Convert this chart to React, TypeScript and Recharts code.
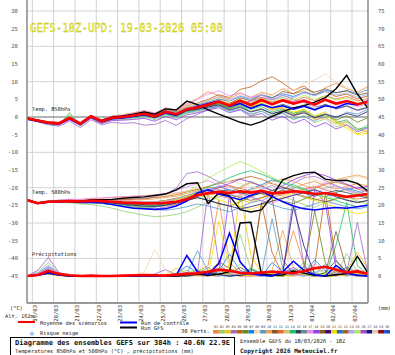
import React from 'react';
import { LineChart, Line, XAxis, YAxis, ReferenceLine } from 'recharts';

const MONO = '"DejaVu Sans Mono", "Liberation Mono", monospace';

const HOURS = [0, 12, 24, 36, 48, 60, 72, 84, 96, 108, 120, 132, 144, 156, 168, 180, 192, 204, 216, 228, 240, 252, 264, 276, 288, 300, 312, 324, 336, 348, 360, 372, 384];
const DAY_TICKS = [6, 30, 54, 78, 102, 126, 150, 174, 198, 222, 246, 270, 294, 318, 342, 366];
const DAY_LABELS = ['19/03', '20/03', '21/03', '22/03', '23/03', '24/03', '25/03', '26/03', '27/03', '28/03', '29/03', '30/03', '31/03', '01/04', '02/04', '03/04'];
const T_TICKS = [-45, -40, -35, -30, -25, -20, -15, -10, -5, 0, 5, 10, 15, 20, 25, 30];
const P_TICKS = [0, 5, 10, 15, 20, 25, 30, 35, 40, 45, 50, 55, 60, 65, 70, 75];
const T_GRID = [-40, -30, -20, -10, 10, 20, 30];

const PERT_COLORS = ['#f08838', '#90d070', '#f8c800', '#a068c8', '#c06018', '#6a8a10', '#1080f0', '#f0d8b0', '#5898c8', '#f0a050', '#805828', '#f06828', '#d0c070', '#20c068', '#284858', '#708890', '#e888f0', '#9040e8', '#806018', '#400880', '#f0e000', '#3070b8', '#a06028', '#a8a8f0', '#a8f050', '#a848c8', '#201880', '#e8c8a8', '#900808', '#2050d0'];
const MEMBER_COLOR_IDX = [0, 1, 2, 3, 4, 5, 6, 7, 8, 9, 10, 11, 13, 14, 16, 17, 20, 23, 24, 26];

// Temperature 850 hPa (°C)
const T850_MEAN = [-0.4, -1.0, -1.6, -1.8, -0.3, -1.9, 0.2, -1.2, -0.2, 0.0, 0.4, 0.9, 0.2, 1.5, 0.8, 2.2, 2.7, 3.5, 4.3, 3.2, 4.6, 3.4, 4.8, 3.6, 4.7, 3.8, 4.6, 3.5, 4.9, 3.8, 4.5, 3.6, 4.3];
const T850_CTRL = [-0.6, -1.2, -1.8, -2.0, -0.5, -2.1, 0.0, -1.4, -0.5, -0.3, 0.2, 0.6, 0.0, 1.2, 0.5, 2.0, 3.0, 3.8, 4.5, 3.0, 3.8, 2.4, 3.5, 2.6, 3.2, 2.2, 3.0, 2.0, 3.2, 2.6, 3.8, 3.4, 4.6];
const T850_GFS = [-0.3, -0.9, -1.5, -1.7, -0.2, -1.7, 0.3, -1.0, 0.0, 0.3, 0.8, 1.4, 0.8, 2.3, 2.0, 4.5, 3.5, 2.0, 0.8, -0.3, -1.5, -2.3, -1.3, 0.2, 1.5, 2.6, 3.2, 4.2, 5.5, 8.0, 11.8, 6.5, 2.5];
const T850_MEMBERS = [
  [-0.2, -0.8, -1.4, -1.5, 0.1, -1.6, 0.5, -0.8, 0.3, 0.6, 1.2, 1.8, 1.0, 2.6, 2.0, 3.8, 5.2, 7.2, 6.0, 5.1, 6.8, 5.5, 7.0, 6.2, 8.0, 6.5, 7.4, 6.0, 8.3, 9.5, 8.0, 7.1, 8.6],
  [-0.5, -1.3, -2.1, -2.4, 1.3, -2.6, -0.3, -1.8, -0.9, -0.7, -0.5, 0.1, -0.8, 0.6, -0.4, 1.0, 1.5, 2.4, 3.0, 1.8, 2.6, 0.5, 1.8, 0.2, 1.2, -0.8, 0.5, -1.6, -0.5, -2.8, -1.5, -3.8, -2.2],
  [-0.3, -0.9, -1.5, -1.9, -0.5, -2.2, 0.0, -1.5, -0.6, -0.1, 0.5, 1.3, 0.6, 2.0, 1.5, 3.0, 3.8, 4.6, 5.5, 4.0, 5.0, 3.0, 4.2, 2.1, 2.8, 1.0, 2.2, 0.3, 1.5, -1.2, -2.5, -4.8, -3.6],
  [-0.6, -1.4, -2.2, -2.6, -1.2, -3.0, -0.8, -2.2, -1.5, -1.8, -1.6, -2.3, -2.1, -1.0, -2.4, -0.5, 0.8, 2.0, 3.2, 2.5, 3.8, 4.5, 5.6, 4.8, 6.2, 5.0, 4.1, 2.8, 3.5, 2.2, 3.0, 1.8, 2.6],
  [-0.4, -1.0, -1.7, -1.7, -0.4, -1.8, 0.4, -1.0, 0.0, 0.4, 0.9, 1.5, 0.7, 2.2, 1.6, 3.2, 4.0, 5.0, 6.3, 5.5, 7.8, 8.5, 10.2, 11.4, 9.6, 7.5, 8.8, 6.4, 7.2, 5.8, 6.5, 5.1, 6.0],
  [-0.5, -1.1, -1.8, -2.0, -0.6, -2.0, 0.1, -1.3, -0.4, -0.2, 0.1, 0.4, -0.3, 0.9, 0.2, 1.5, 2.0, 2.9, 3.6, 2.3, 3.2, 1.6, 2.4, 0.8, 1.9, 0.6, 1.6, -0.4, 0.8, -0.9, 0.4, -1.5, -0.2],
  [-0.4, -1.1, -1.6, -1.9, -0.2, -2.0, 0.3, -1.1, -0.1, 0.2, 0.6, 1.1, 0.5, 1.9, 1.3, 2.6, 3.4, 4.2, 5.1, 4.5, 5.8, 5.0, 6.3, 5.5, 6.6, 5.8, 7.0, 6.2, 7.6, 6.8, 7.5, 6.6, 7.8],
  [-0.3, -0.9, -1.4, -1.6, -0.1, -1.7, 0.4, -0.9, 0.1, 0.4, 1.0, 1.6, 1.1, 2.4, 1.8, 3.1, 3.9, 4.4, 5.6, 4.6, 6.2, 5.1, 6.8, 6.0, 8.2, 7.4, 9.6, 10.5, 12.2, 9.8, 8.5, 6.8, 7.4],
  [-0.5, -1.2, -1.9, -2.1, -0.6, -2.2, -0.2, -1.5, -0.6, -0.5, -0.2, 0.3, -0.4, 0.8, 0.0, 1.2, 1.8, 2.5, 3.0, 1.6, 2.2, 0.8, 1.6, 0.2, 1.0, -0.6, 0.2, -1.2, 0.6, -0.4, 1.4, 0.8, 2.2],
  [-0.3, -0.9, -1.5, -1.6, 0.0, -1.8, 0.3, -1.1, 0.0, 0.3, 0.7, 1.4, 0.9, 2.1, 1.7, 2.8, 3.2, 4.0, 4.6, 3.5, 4.2, 2.8, 3.6, 1.9, 2.5, 0.4, 1.2, -0.8, -0.2, -2.0, -1.2, -3.2, -4.4],
  [-0.4, -1.0, -1.7, -1.8, -0.4, -1.9, 0.2, -1.3, -0.3, 0.0, 0.5, 1.0, 0.4, 1.6, 1.0, 2.4, 2.9, 3.6, 4.4, 3.8, 5.4, 4.6, 6.2, 5.3, 7.2, 6.6, 8.1, 7.0, 8.0, 6.9, 7.4, 6.2, 6.8],
  [-0.4, -0.9, -1.5, -1.7, -0.2, -1.8, 0.2, -1.2, -0.2, 0.1, 0.6, 1.2, 0.3, 1.7, 0.9, 2.4, 3.0, 3.8, 4.9, 3.6, 4.8, 3.9, 5.5, 4.2, 5.0, 4.4, 5.6, 4.6, 6.0, 5.1, 5.8, 4.6, 5.2],
  [-0.5, -1.1, -1.7, -2.0, 0.8, -2.1, 0.0, -1.4, -0.4, -0.3, 0.0, 0.5, -0.2, 1.0, 0.3, 1.6, 2.2, 3.0, 3.8, 2.6, 3.4, 2.2, 3.0, 1.4, 2.2, 1.0, 1.8, 0.2, 0.9, -1.6, -0.8, -3.6, -2.8],
  [-0.4, -1.0, -1.6, -1.8, -0.3, -1.9, 0.1, -1.2, -0.3, -0.1, 0.3, 0.7, 0.0, 1.3, 0.6, 1.9, 2.4, 3.1, 3.9, 2.8, 4.0, 2.6, 3.8, 2.6, 3.6, 2.5, 3.4, 2.2, 3.6, 2.4, 3.2, 2.0, 2.8],
  [-0.3, -0.9, -1.5, -1.6, 0.0, -1.6, 0.5, -0.8, 0.2, 0.5, 1.1, 1.7, 1.2, 2.5, 1.9, 3.4, 5.0, 6.5, 7.4, 6.0, 6.8, 5.6, 6.2, 4.8, 5.5, 4.4, 5.0, 3.8, 4.6, 3.4, 4.0, 3.0, 3.6],
  [-0.5, -1.2, -1.8, -2.2, -0.8, -2.4, -0.4, -1.8, -1.0, -0.9, -0.7, -0.4, -1.2, 0.2, -0.8, 0.6, 1.2, 2.0, 2.6, 1.2, 2.0, 0.2, 1.0, -0.9, 0.2, -1.8, -0.6, -2.8, -1.6, -3.4, -2.2, -4.2, -3.0],
  [-0.4, -1.0, -1.6, -1.8, -0.4, -2.0, 0.1, -1.3, -0.2, 0.1, 0.5, 1.0, 0.3, 1.5, 0.9, 2.3, 2.9, 3.8, 4.5, 3.4, 4.3, 3.0, 3.9, 2.4, 3.2, 1.4, 2.1, 0.2, 0.8, -1.6, -3.2, -5.0, -4.6],
  [-0.4, -1.0, -1.6, -1.8, -0.3, -1.9, 0.2, -1.2, -0.2, 0.0, 0.5, 1.0, 0.5, 1.8, 1.2, 2.7, 3.5, 4.6, 5.8, 4.8, 6.0, 5.2, 6.4, 5.0, 6.0, 5.4, 6.8, 6.0, 7.2, 6.2, 6.8, 5.6, 6.4],
  [-0.4, -1.0, -1.7, -1.9, -0.3, -1.9, 0.1, -1.2, -0.2, 0.0, 0.3, 0.8, 0.1, 1.4, 0.7, 2.0, 2.6, 3.4, 4.0, 2.9, 4.2, 3.6, 5.2, 4.4, 5.6, 4.8, 6.2, 5.0, 6.0, 4.8, 5.4, 3.8, 4.4],
  [-0.5, -1.1, -1.7, -1.9, -0.5, -2.0, 0.0, -1.3, -0.4, -0.2, 0.2, 0.6, -0.1, 1.1, 0.4, 1.8, 2.2, 2.8, 3.4, 2.0, 2.8, 1.4, 2.2, 1.0, 1.6, 0.4, 1.2, -0.2, 0.8, 0.0, 1.0, 0.2, 1.6],
];

// Temperature 500 hPa (°C)
const T500_MEAN = [-23.5, -24.4, -24.0, -23.9, -23.8, -23.9, -23.7, -23.8, -24.0, -24.2, -24.3, -24.4, -24.4, -24.3, -24.0, -23.3, -22.1, -21.6, -21.2, -21.5, -21.0, -21.4, -20.9, -21.6, -21.4, -21.0, -21.3, -21.8, -21.5, -22.0, -22.6, -22.2, -21.8];
const T500_CTRL = [-23.6, -24.5, -24.1, -24.0, -24.0, -24.2, -24.1, -24.3, -24.8, -25.3, -25.8, -26.0, -26.2, -26.0, -25.2, -23.8, -21.5, -20.6, -21.8, -22.6, -23.4, -22.2, -21.0, -22.5, -24.0, -25.2, -26.0, -26.3, -25.9, -25.6, -25.8, -25.4, -25.0];
const T500_GFS = [-23.4, -24.3, -23.9, -23.8, -23.7, -23.8, -23.5, -23.4, -23.3, -23.0, -22.8, -22.6, -22.2, -21.8, -20.6, -18.9, -18.6, -24.5, -21.5, -22.3, -26.2, -26.9, -26.3, -22.4, -17.8, -16.6, -15.8, -15.6, -17.6, -18.0, -17.9, -18.8, -21.0];
const T500_MEMBERS = [
  [-23.4, -24.2, -23.8, -23.6, -23.4, -23.4, -23.1, -23.0, -22.8, -22.6, -22.4, -22.3, -22.0, -21.8, -21.5, -21.0, -20.6, -19.8, -20.5, -21.2, -20.0, -18.6, -19.4, -20.8, -21.5, -20.2, -19.0, -18.2, -19.5, -20.4, -19.6, -18.9, -19.5],
  [-23.6, -24.5, -24.2, -24.1, -24.3, -24.6, -24.8, -25.2, -25.8, -26.6, -27.2, -27.8, -28.2, -28.0, -27.6, -26.8, -25.5, -24.0, -22.6, -21.5, -19.8, -18.2, -19.5, -21.0, -22.4, -23.6, -24.8, -25.6, -24.2, -23.0, -22.5, -23.8, -24.6],
  [-23.5, -24.3, -23.9, -23.8, -23.7, -23.9, -23.8, -24.0, -24.3, -24.6, -24.9, -25.1, -25.4, -25.2, -24.6, -23.8, -22.8, -22.0, -21.2, -22.4, -23.5, -24.2, -23.0, -21.8, -20.6, -21.4, -22.8, -23.6, -22.4, -21.2, -20.6, -21.6, -22.4],
  [-23.4, -24.2, -23.8, -23.6, -23.5, -23.6, -23.4, -23.4, -23.5, -23.4, -23.2, -23.0, -22.6, -21.8, -20.2, -16.0, -15.5, -16.8, -18.4, -19.6, -21.0, -22.5, -23.8, -22.0, -20.5, -18.8, -17.2, -16.8, -18.0, -19.4, -20.6, -19.8, -20.8],
  [-23.5, -24.4, -24.0, -23.9, -23.8, -23.8, -23.6, -23.5, -23.5, -23.4, -23.3, -23.2, -22.8, -22.5, -22.0, -21.2, -20.4, -19.6, -18.8, -18.2, -17.5, -16.8, -17.6, -18.9, -19.8, -20.6, -21.4, -20.2, -19.0, -18.4, -19.2, -20.4, -21.2],
  [-23.6, -24.5, -24.1, -24.0, -24.0, -24.1, -24.0, -24.2, -24.4, -24.6, -24.8, -24.9, -25.0, -24.8, -24.2, -23.6, -22.8, -23.6, -24.6, -25.2, -24.0, -22.6, -21.4, -22.6, -23.8, -24.5, -23.2, -22.0, -21.4, -22.2, -23.4, -24.2, -23.6],
  [-23.5, -24.3, -23.9, -23.9, -23.8, -24.0, -23.9, -24.1, -24.5, -25.0, -25.4, -25.6, -25.5, -25.0, -24.2, -23.0, -21.8, -20.6, -19.6, -20.8, -21.6, -20.4, -19.2, -17.8, -18.6, -19.8, -20.6, -21.8, -22.6, -21.4, -20.2, -21.0, -22.0],
  [-23.4, -24.2, -23.8, -23.6, -23.5, -23.5, -23.2, -23.1, -23.0, -22.9, -22.8, -22.6, -22.4, -22.0, -21.6, -21.0, -20.2, -19.5, -18.6, -18.2, -18.8, -19.6, -20.4, -19.2, -18.0, -17.2, -16.8, -17.8, -18.6, -18.0, -17.4, -16.8, -17.6],
  [-23.6, -24.4, -24.0, -23.9, -23.9, -24.1, -24.1, -24.4, -24.8, -25.2, -25.6, -26.0, -26.2, -26.4, -26.0, -25.4, -24.6, -25.2, -26.0, -26.8, -25.6, -24.2, -23.6, -24.8, -25.8, -26.4, -25.6, -24.6, -23.8, -24.6, -25.4, -26.0, -25.4],
  [-23.5, -24.3, -23.9, -23.7, -23.6, -23.6, -23.4, -23.5, -23.6, -23.6, -23.5, -23.4, -23.2, -22.8, -22.4, -21.6, -20.8, -21.6, -22.4, -23.0, -22.0, -20.8, -19.6, -18.4, -17.6, -18.2, -19.4, -20.2, -19.0, -17.8, -17.0, -16.4, -17.2],
  [-23.5, -24.4, -24.0, -23.9, -23.9, -24.0, -23.8, -23.9, -24.1, -24.2, -24.3, -24.2, -24.0, -23.6, -23.0, -22.2, -21.4, -20.6, -21.2, -22.0, -22.8, -23.6, -22.8, -21.8, -20.8, -21.6, -22.4, -23.2, -24.0, -23.2, -22.4, -21.8, -22.6],
  [-23.4, -24.3, -23.9, -23.8, -23.7, -23.8, -23.6, -23.7, -23.8, -23.9, -23.9, -24.0, -24.0, -23.8, -23.4, -22.6, -21.8, -20.8, -20.0, -19.4, -20.2, -21.0, -21.8, -22.6, -22.0, -21.2, -20.4, -19.6, -20.6, -21.6, -22.6, -23.2, -22.8],
  [-23.6, -24.5, -24.1, -24.0, -24.1, -24.3, -24.3, -24.5, -24.8, -25.0, -25.2, -25.3, -25.2, -24.8, -24.0, -22.8, -21.2, -19.8, -18.6, -17.2, -16.0, -15.2, -16.2, -17.4, -18.6, -19.2, -20.4, -21.6, -22.8, -23.6, -24.6, -25.4, -24.8],
  [-23.5, -24.4, -24.0, -23.9, -23.8, -23.9, -23.8, -24.0, -24.2, -24.4, -24.6, -24.8, -24.9, -24.6, -24.0, -23.2, -22.4, -21.6, -21.0, -20.6, -21.4, -22.2, -21.6, -20.8, -20.0, -20.8, -21.6, -22.4, -21.6, -20.8, -21.4, -22.2, -23.0],
  [-23.4, -24.2, -23.7, -23.5, -23.3, -23.3, -23.0, -22.9, -22.7, -22.6, -22.5, -22.4, -22.1, -21.6, -20.8, -19.8, -18.8, -18.0, -19.2, -20.6, -21.8, -22.8, -23.6, -24.4, -23.2, -22.0, -20.8, -19.8, -18.6, -19.6, -20.8, -21.8, -20.6],
  [-23.6, -24.5, -24.1, -24.1, -24.0, -24.2, -24.2, -24.4, -24.7, -25.0, -25.4, -25.8, -26.0, -25.6, -24.8, -23.6, -22.4, -21.2, -20.0, -18.8, -17.6, -18.4, -19.6, -20.8, -19.4, -17.8, -16.6, -15.8, -16.6, -17.8, -19.0, -20.2, -19.6],
  [-23.5, -24.3, -24.0, -23.9, -23.8, -23.9, -23.7, -23.8, -24.0, -24.1, -24.1, -24.2, -24.1, -23.8, -23.2, -22.4, -21.6, -22.4, -23.4, -24.4, -25.4, -26.2, -25.0, -23.8, -22.6, -21.6, -22.6, -23.6, -24.6, -25.6, -26.6, -27.4, -26.8],
  [-23.5, -24.3, -23.9, -23.8, -23.7, -23.7, -23.5, -23.6, -23.7, -23.8, -23.9, -24.0, -24.0, -23.8, -23.2, -22.2, -21.0, -20.2, -20.8, -21.8, -22.6, -21.6, -20.4, -19.4, -20.4, -21.6, -22.8, -21.6, -20.2, -19.4, -20.6, -21.4, -20.8],
  [-23.6, -24.4, -24.0, -24.0, -24.0, -24.2, -24.1, -24.3, -24.6, -25.0, -25.4, -25.6, -25.4, -24.8, -23.4, -21.4, -19.2, -17.4, -15.6, -14.0, -12.6, -13.8, -15.4, -17.0, -18.4, -19.6, -20.8, -21.8, -22.6, -23.2, -22.4, -21.6, -22.2],
  [-23.5, -24.4, -24.1, -24.0, -23.9, -24.0, -23.9, -24.1, -24.4, -24.7, -25.0, -25.2, -25.3, -25.0, -24.4, -23.6, -22.8, -23.6, -24.4, -25.2, -26.0, -25.4, -24.6, -23.8, -23.0, -22.2, -21.4, -20.6, -21.6, -22.6, -23.6, -24.2, -23.6],
];

// Precipitation (mm, right axis)
const PRECIP_MEAN = [0, 0.3, 1.4, 0.6, 0.2, 0, 0.1, 0, 0, 0.1, 0.2, 0.3, 0.2, 0.1, 0.4, 0.6, 0.8, 1.2, 1.8, 1.5, 0.9, 0.7, 1.0, 1.2, 1.0, 0.8, 1.4, 2.2, 2.6, 1.8, 1.0, 1.3, 0.6];
const PRECIP_CTRL = [0, 0.2, 0.8, 0.3, 0, 0, 0, 0, 0, 0, 0, 0, 0, 0, 0.2, 5.8, 1.2, 0.4, 3.5, 12.2, 4.0, 0.6, 0.2, 0, 1.2, 4.2, 1.6, 0.3, 0, 3.0, 0.8, 0.2, 0];
const PRECIP_GFS = [0, 0.2, 1.0, 0.4, 0, 0, 0, 0, 0, 0, 0, 0, 0, 0, 0, 0.4, 0.6, 0.2, 0.5, 1.2, 15.0, 15.2, 0.6, 0.2, 0.3, 1.4, 0.8, 0.2, 0, 0.4, 0.6, 5.6, 0.8];
const PRECIP_MEMBERS = [
  [0, 0.5, 2.0, 0.6, 0, 0, 0, 0, 0, 0, 0, 0, 0, 0, 0, 0.6, 1.2, 3.0, 21.5, 4.0, 0.8, 0, 0, 0.4, 2.6, 12.8, 3.2, 0, 0, 1.2, 0.4, 0, 0],
  [0, 1.2, 3.8, 0.8, 0, 0, 0, 0, 0, 0, 0, 0, 0, 0, 0.8, 1.6, 0.4, 0, 0.6, 3.2, 11.8, 2.0, 0.2, 0, 0, 0.8, 4.0, 1.2, 0, 0, 6.4, 1.0, 0],
  [0, 0.2, 0.6, 0, 0, 0, 0, 0, 0, 0, 0, 0, 0, 0.4, 2.2, 0.8, 0, 0, 0.4, 1.0, 24.0, 6.0, 0.8, 0, 0.2, 0.4, 1.8, 0.6, 0, 0, 1.4, 6.8, 2.0],
  [0, 1.6, 5.2, 1.0, 0, 0, 0, 0, 0, 0, 0, 0, 0.6, 1.8, 0.4, 0, 0.8, 24.2, 3.4, 0.6, 0, 0, 0.4, 1.6, 0.8, 22.4, 2.8, 0.4, 0, 0.2, 1.0, 15.2, 0.6],
  [0, 0.3, 1.2, 0.3, 0, 0, 0, 0, 0, 0, 0, 0, 0, 0, 0, 0.4, 1.8, 0.6, 4.0, 2.2, 0.6, 0.2, 20.8, 6.6, 0.4, 0, 0.8, 3.0, 23.6, 4.2, 0.8, 0, 0],
  [0, 0.4, 1.6, 0.4, 0, 0, 0, 0, 0, 0, 0, 0, 0, 0, 0, 0, 0.6, 2.4, 0.6, 0, 0.4, 1.8, 0.8, 0.2, 0, 0.6, 2.6, 18.4, 3.6, 0.4, 0, 1.8, 0.4],
  [0, 0.6, 2.4, 0.8, 0, 0, 0, 0, 0, 0, 0, 0, 0, 0, 0.6, 2.8, 1.0, 0.2, 1.4, 6.2, 1.6, 0.4, 0, 3.8, 1.2, 0.2, 0.6, 4.6, 1.4, 0.2, 2.6, 0.8, 0],
  [0, 0.2, 0.8, 0.2, 0, 0, 0, 0, 0, 0, 0.2, 1.0, 7.6, 1.6, 0.2, 0, 0, 0.4, 1.6, 0.4, 0, 0.2, 1.2, 0.6, 0, 0, 0.8, 2.2, 0.6, 0, 0.4, 2.8, 0.8],
  [0, 0.8, 3.0, 0.6, 0, 0, 0, 0, 0, 0, 0, 0, 0, 0, 0, 0.6, 7.2, 1.4, 0.2, 0, 0.4, 1.8, 0.6, 16.2, 2.0, 0.4, 0, 0.6, 3.4, 0.8, 0, 0.4, 0],
  [0, 0.2, 0.6, 0.2, 0, 0, 0, 0, 0, 0, 0, 0, 0, 0, 0, 0, 0.2, 0.8, 2.4, 0.6, 0.2, 0, 0.4, 1.6, 13.0, 2.4, 0.4, 0, 0.2, 1.4, 0.6, 0, 0],
  [0, 0.4, 1.4, 0.4, 0, 0, 0, 0, 0, 0, 0, 0, 0, 0, 0, 0.2, 0.8, 0.2, 0, 0.6, 2.4, 0.8, 20.4, 22.0, 4.6, 0.6, 0.2, 0, 0.8, 12.6, 1.8, 0.2, 0],
  [0, 0.6, 1.8, 0.6, 0, 0, 0, 0, 0, 0, 0, 0, 0, 0, 0, 0.2, 0.6, 0, 1.8, 0.4, 0, 0.2, 0.8, 0.2, 0, 0.4, 1.6, 0.4, 0, 0.6, 1.8, 0.4, 0],
  [0, 0.3, 1.0, 0.2, 0, 0, 0, 0, 0, 0, 0, 0, 0, 0, 0, 0, 0.4, 1.6, 0.2, 0, 0.6, 2.2, 0.8, 0.2, 0, 0.6, 2.6, 0.6, 0.2, 8.8, 20.8, 3.0, 0.4],
  [0, 0.2, 0.8, 0.2, 0, 0, 0, 0, 0, 0, 0, 0, 0, 0, 0, 0, 0.2, 0.8, 0.4, 0, 0.2, 0.6, 0.2, 0, 0.8, 1.8, 0.4, 0, 1.0, 4.4, 1.2, 0.2, 0],
  [0, 0.8, 2.6, 0.8, 0, 0, 0, 0, 0, 0, 0, 0, 0, 0, 0, 0.4, 1.4, 0.4, 0, 0.2, 0.8, 0.2, 0, 0.6, 1.8, 0.4, 0.2, 3.6, 0.8, 0, 0.6, 1.8, 0.4],
  [0, 0.4, 1.8, 0.6, 0, 0, 0, 0, 0, 0, 0, 0, 0, 0, 0.4, 1.0, 0.2, 0, 0.6, 22.8, 4.0, 0.6, 0.2, 0, 0.8, 2.4, 0.6, 24.4, 20.6, 2.2, 0.4, 0, 0.2],
  [0, 0.2, 0.6, 0.2, 0, 0, 0, 0, 0, 0, 0, 0, 0, 0, 0, 0, 0.2, 0.6, 15.6, 1.8, 0.4, 0, 0.2, 0.8, 0.2, 0, 0.4, 2.6, 0.6, 0, 0.2, 0.8, 0.2],
  [0, 0.6, 2.2, 0.6, 0, 0, 0, 0, 0, 0, 0, 0, 0, 0, 0, 0.2, 0.8, 0.2, 0, 0.4, 1.4, 0.4, 0, 0.2, 0.6, 0.2, 0, 0.8, 2.0, 0.6, 0.2, 0, 0],
  [0, 0.4, 1.2, 0.2, 0, 0, 0, 0, 0, 0, 0, 0, 0, 0, 0, 0.6, 2.0, 0.4, 0.2, 0.6, 3.4, 1.0, 0.2, 0, 0.4, 1.6, 0.4, 0, 0.6, 2.4, 0.6, 0.2, 0],
  [0, 0.2, 0.8, 0.2, 0, 0, 0, 0, 0, 0, 0, 0, 0, 0, 0, 0, 0.4, 1.2, 0.4, 0, 0.2, 0.8, 0.2, 0, 0.6, 19.6, 8.4, 0.4, 0, 0.2, 0.8, 0.2, 0],
];

const DATA = HOURS.map((h, i) => {
  const row: Record<string, number> = {
    h,
    t850Mean: T850_MEAN[i], t850Ctrl: T850_CTRL[i], t850Gfs: T850_GFS[i],
    t500Mean: T500_MEAN[i], t500Ctrl: T500_CTRL[i], t500Gfs: T500_GFS[i],
    pMean: PRECIP_MEAN[i], pCtrl: PRECIP_CTRL[i], pGfs: PRECIP_GFS[i],
  };
  T850_MEMBERS.forEach((s, k) => { row['a' + k] = s[i]; });
  T500_MEMBERS.forEach((s, k) => { row['b' + k] = s[i]; });
  PRECIP_MEMBERS.forEach((s, k) => { row['c' + k] = s[i]; });
  return row;
});

const DateTick = (props: any) => {
  const { x, payload } = props;
  const idx = DAY_TICKS.indexOf(payload.value);
  return (
    <text transform={`translate(${x + 4.5},305) rotate(-90)`} textAnchor="end" fontFamily={MONO} fontSize={5.6} fill="#333">
      {DAY_LABELS[idx]}
    </text>
  );
};
const LeftTick = (props: any) => (
  <text x={18} y={props.y + 2} textAnchor="end" fontFamily={MONO} fontSize={5.6} fill="#555">{props.payload.value}</text>
);
const RightTick = (props: any) => (
  <text x={378} y={props.y + 2} textAnchor="start" fontFamily={MONO} fontSize={5.6} fill="#555">{props.payload.value}</text>
);

const memberColor = (k: number) => PERT_COLORS[MEMBER_COLOR_IDX[k]];

export default function App() {
  return (
    <div style={{ position: 'absolute', left: 0, top: 0, width: 395, height: 355, background: '#fff' }}>
      <LineChart width={395} height={355} data={DATA} margin={{ top: 0, right: 0, bottom: 0, left: 0 }}>
        <XAxis dataKey="h" type="number" domain={[0, 384]} ticks={DAY_TICKS} interval={0} tick={(p: any) => <DateTick {...p} />} tickLine={false} axisLine={{ stroke: '#777', strokeWidth: 1.5 }} height={52} allowDataOverflow />
        <YAxis yAxisId="t" domain={[-52.64, 33.11]} ticks={T_TICKS} interval={0} tick={(p: any) => <LeftTick {...p} />} tickLine={false} axisLine={{ stroke: '#888', strokeWidth: 1.5 }} width={27} allowDataOverflow />
        <YAxis yAxisId="p" orientation="right" domain={[-7.64, 78.11]} ticks={P_TICKS} interval={0} tick={(p: any) => <RightTick {...p} />} tickLine={false} axisLine={{ stroke: '#888', strokeWidth: 1.5 }} width={27} allowDataOverflow />
        {T_GRID.map((v) => (
          <ReferenceLine key={'gy' + v} yAxisId="t" y={v} stroke="#d2d2d2" strokeWidth={1} />
        ))}
        {DAY_TICKS.map((v) => (
          <ReferenceLine key={'gx' + v} yAxisId="t" x={v} stroke="#d2d2d2" strokeWidth={1} />
        ))}
        <ReferenceLine yAxisId="t" y={0} stroke="#9a9a9a" strokeWidth={1.5} />
        {PRECIP_MEMBERS.map((_, k) => (
          <Line key={'c' + k} yAxisId="p" dataKey={'c' + k} stroke={memberColor(k)} strokeWidth={0.8} dot={false} isAnimationActive={false} />
        ))}
        {T500_MEMBERS.map((_, k) => (
          <Line key={'b' + k} yAxisId="t" dataKey={'b' + k} stroke={memberColor(k)} strokeWidth={0.8} dot={false} isAnimationActive={false} />
        ))}
        {T850_MEMBERS.map((_, k) => (
          <Line key={'a' + k} yAxisId="t" dataKey={'a' + k} stroke={memberColor(k)} strokeWidth={0.8} dot={false} isAnimationActive={false} />
        ))}
        <Line yAxisId="p" dataKey="pGfs" stroke="#000" strokeWidth={1.4} dot={false} isAnimationActive={false} />
        <Line yAxisId="t" dataKey="t500Gfs" stroke="#000" strokeWidth={1.4} dot={false} isAnimationActive={false} />
        <Line yAxisId="t" dataKey="t850Gfs" stroke="#000" strokeWidth={1.4} dot={false} isAnimationActive={false} />
        <Line yAxisId="p" dataKey="pCtrl" stroke="#0000ff" strokeWidth={1.5} dot={false} isAnimationActive={false} />
        <Line yAxisId="t" dataKey="t500Ctrl" stroke="#0000ff" strokeWidth={1.5} dot={false} isAnimationActive={false} />
        <Line yAxisId="t" dataKey="t850Ctrl" stroke="#0000ff" strokeWidth={1.5} dot={false} isAnimationActive={false} />
        <Line yAxisId="p" dataKey="pMean" stroke="#ff0000" strokeWidth={2.6} dot={false} isAnimationActive={false} />
        <Line yAxisId="t" dataKey="t500Mean" stroke="#ff0000" strokeWidth={2.6} dot={false} isAnimationActive={false} />
        <Line yAxisId="t" dataKey="t850Mean" stroke="#ff0000" strokeWidth={2.6} dot={false} isAnimationActive={false} />
      </LineChart>
      <svg width={395} height={355} style={{ position: 'absolute', left: 0, top: 0, pointerEvents: 'none' }}>
        <text x={30} y={32} fontFamily={MONO} fontSize={13} fill="#ffff40" stroke="#b0b000" strokeWidth={0.35} textLength={193} lengthAdjust="spacingAndGlyphs">GEFS-18Z-UPD: 19-03-2026 05:00</text>
        <text x={32} y={111} fontFamily={MONO} fontSize={5.3} fill="#222">Temp. 850hPa</text>
        <text x={32} y={194} fontFamily={MONO} fontSize={5.3} fill="#222">Temp. 500hPa</text>
        <text x={32} y={256} fontFamily={MONO} fontSize={5.3} fill="#222">Précipitations</text>
        <text x={10} y={310} fontFamily={MONO} fontSize={5.3} fill="#222">(°C)</text>
        <text x={378} y={310} fontFamily={MONO} fontSize={5.3} fill="#222">(mm)</text>
        <text x={5} y={318} fontFamily={MONO} fontSize={5.3} fill="#222">Alt. 162m</text>
        <rect x={18} y={321} width={17} height={2} fill="#ff0000" />
        <text x={40} y={325} fontFamily={MONO} fontSize={5.3} fill="#222">Moyenne des scénarios</text>
        <rect x={120} y={321.5} width={17} height={2} fill="#0000ff" />
        <text x={141} y={325} fontFamily={MONO} fontSize={5.3} fill="#222">Run de contrôle</text>
        <rect x={120} y={326.5} width={17} height={2} fill="#000" />
        <text x={141} y={330} fontFamily={MONO} fontSize={5.3} fill="#222">Run GFS</text>
        <text x={29} y={336} fontFamily='"DejaVu Sans", sans-serif' fontSize={6.5} fill="#5aaef0">❄</text>
        <text x={40} y={335} fontFamily={MONO} fontSize={5.3} fill="#222">Risque neige</text>
        <text x={181} y={333} fontFamily={MONO} fontSize={5.3} fill="#222">30 Perts.</text>
        {PERT_COLORS.map((c, k) => (
          <g key={'lg' + k}>
            <text x={213 + k * 5.9 + 2.95} y={327.5} textAnchor="middle" fontFamily={MONO} fontSize={3.4} fill="#333">{String(k + 1).padStart(2, '0')}</text>
            <rect x={213 + k * 5.9} y={330} width={5.9} height={3.5} fill={c} />
          </g>
        ))}
        <rect x={10.5} y={337.5} width={224} height={19} fill="none" stroke="#000" strokeWidth={1} />
        <text x={15} y={344.5} fontFamily={MONO} fontSize={7} fontWeight="bold" fill="#111" textLength={215} lengthAdjust="spacingAndGlyphs">Diagramme des ensembles GEFS sur 384h : 40.6N 22.9E</text>
        <text x={15} y={352.5} fontFamily={MONO} fontSize={5.3} fill="#222">Températures 850hPa et 500hPa (°C) , précipitations (mm)</text>
        <text x={240} y={342.5} fontFamily={MONO} fontSize={5.3} fill="#222">Ensemble GEFS du 18/03/2026 - 18Z</text>
        <text x={240} y={352.5} fontFamily={MONO} fontSize={6} fontWeight="bold" fill="#111">Copyright 2026 Meteociel.fr</text>
      </svg>
    </div>
  );
}
